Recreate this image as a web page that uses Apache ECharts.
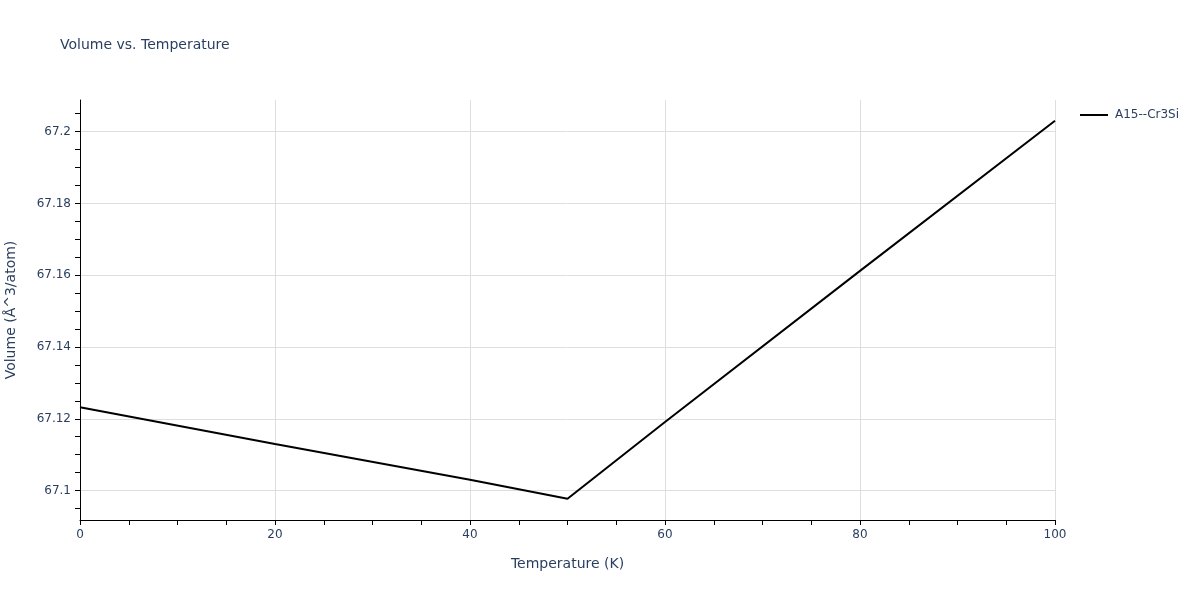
<!DOCTYPE html>
<html>
<head>
<meta charset="UTF-8">
<title>Volume vs. Temperature</title>
<script src="https://cdn.jsdelivr.net/npm/echarts@6/dist/echarts.min.js"></script>
<style>
    html, body { margin: 0; padding: 0; background: #fff; }
    #main { width: 1200px; height: 600px; }
</style>
</head>
<body>
<div id="main"></div>
<script>
    // values
    var temperature = [0, 20, 40, 50, 60, 80, 100];
    var volume = [67.1232, 67.1130, 67.1030, 67.0977, 67.1191, 67.1612, 67.2030];
    var seriesName = 'A15--Cr3Si';
    var yTickValues = [67.1, 67.12, 67.14, 67.16, 67.18, 67.2];
    var yMin = 67.0918, yMax = 67.2088;

    // small ticks on the y axis every 0.005
    var yMinorValues = [];
    for (var v = 67.095; v <= 67.2085; v += 0.005) {
        yMinorValues.push(Math.round(v * 1000) / 1000);
    }

    var txt = '#2a3f5f';
    var fontName = '"DejaVu Sans", Verdana, sans-serif';

    var points = [];
    for (var i = 0; i < temperature.length; i++) {
        points.push([temperature[i], volume[i]]);
    }

    var chart = echarts.init(document.getElementById('main'));
    chart.setOption({
        animation: false,
        backgroundColor: '#fff',
        title: {
            text: 'Volume vs. Temperature',
            left: 60, top: 38, padding: 0,
            textStyle: { fontFamily: fontName, fontSize: 14, fontWeight: 'normal', color: txt }
        },
        legend: {
            data: [{ name: seriesName, icon: 'rect' }],
            left: 1080, top: 109, padding: 0,
            itemWidth: 28, itemHeight: 2, itemGap: 4,
            textStyle: { fontFamily: fontName, fontSize: 12, color: txt, padding: [0, 0, 0, 2] }
        },
        grid: { left: 80, right: 145, top: 100, bottom: 80, containLabel: false, outerBoundsMode: 'none' },
        xAxis: {
            type: 'value',
            min: 0, max: 100, interval: 20,
            name: 'Temperature (K)',
            nameLocation: 'middle', nameGap: 37,
            nameTextStyle: { fontFamily: fontName, fontSize: 14, color: txt },
            axisLine: { show: true, onZero: false, lineStyle: { color: '#000', width: 1 } },
            axisTick: { show: true, length: 5, lineStyle: { color: '#000' } },
            minorTick: { show: true, splitNumber: 4, length: 5, lineStyle: { color: '#000' } },
            axisLabel: { fontFamily: fontName, fontSize: 12, color: txt, margin: 9 },
            splitLine: { show: true, lineStyle: { color: '#dedede', width: 1 } }
        },
        yAxis: [{
            type: 'value',
            min: yMin, max: yMax,
            name: 'Volume (Å^3/atom)',
            nameLocation: 'middle', nameGap: 62,
            nameTextStyle: { fontFamily: fontName, fontSize: 14, color: txt },
            axisLine: { show: true, onZero: false, lineStyle: { color: '#000', width: 1 } },
            axisTick: { show: true, length: 5, customValues: yTickValues, lineStyle: { color: '#000' } },
            axisLabel: {
                customValues: yTickValues,
                fontFamily: fontName, fontSize: 12, color: txt, margin: 9,
                formatter: function (val) { return String(Math.round(val * 100) / 100); }
            },
            splitLine: { show: true, lineStyle: { color: '#dedede', width: 1 } }
        }, {
            type: 'value',
            position: 'left',
            min: yMin, max: yMax,
            axisLine: { show: false },
            axisTick: { show: true, length: 5, customValues: yMinorValues, lineStyle: { color: '#000' } },
            axisLabel: { show: false },
            splitLine: { show: false }
        }],
        series: [{
            name: seriesName,
            type: 'line',
            data: points,
            showSymbol: false,
            symbol: 'none',
            lineStyle: { color: '#000', width: 2 },
            itemStyle: { color: '#000' }
        }]
    });
</script>
</body>
</html>
